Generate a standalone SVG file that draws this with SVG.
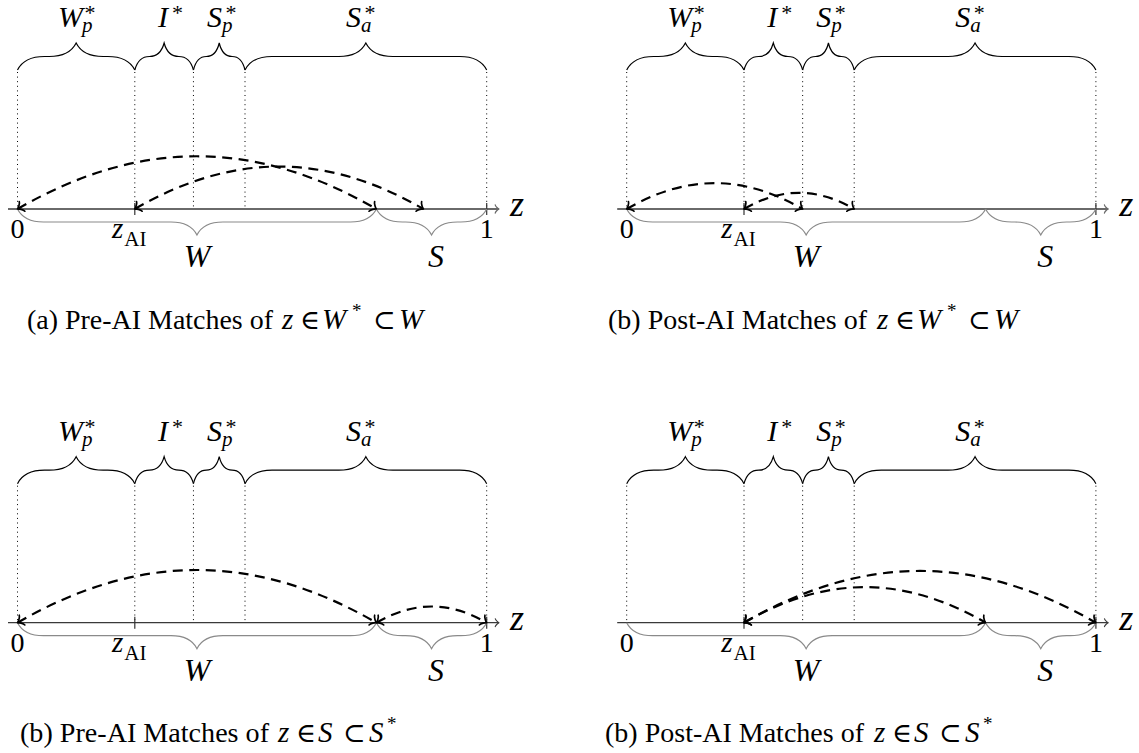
<svg xmlns="http://www.w3.org/2000/svg" width="1139" height="753" viewBox="0 0 1139 753">
<style>
.brace{fill:none;stroke:#000;stroke-width:1.2}
.lbrace{fill:none;stroke:#8a8a8a;stroke-width:1.2}
.dot{stroke:#000;stroke-width:1;stroke-dasharray:1 3.6}
.axis{stroke:#6a6a6a;stroke-width:1.9;marker-end:url(#axhead)}
.axis2{stroke:#3a3a3a;stroke-width:1.3;marker-end:url(#axhead2)}
.tick{stroke:#333;stroke-width:1.2}
.arc{fill:none;stroke:#000;stroke-width:2.2;stroke-dasharray:10 6.5;marker-start:url(#tip);marker-end:url(#tip)}
text{font-family:"Liberation Serif","DejaVu Serif",serif;fill:#000}
.lab{font-size:30px;font-style:italic}
.big{font-size:32px;font-style:italic;text-anchor:middle}
.sub{font-size:21px;font-style:italic}
.star{font-size:22px;font-style:normal}
.num{font-size:28px;text-anchor:middle}
.zi{font-size:29px;font-style:italic}
.ai{font-size:21px;font-style:normal}
.zax{font-size:36px;font-style:italic}
.cap{font-size:27px}
.capi{font-size:29px;font-style:italic}
.caps{font-size:19px}
</style>
<defs>
<marker id="tip" markerUnits="userSpaceOnUse" orient="auto-start-reverse" refX="1.05" refY="0" markerWidth="20" markerHeight="20" overflow="visible">
<path d="M-4.2,5.6 C-3.85,3.5 0,0.35 1.05,0 C0,-0.35 -3.85,-3.5 -4.2,-5.6" fill="none" stroke="#000" stroke-width="1.7" stroke-linecap="round" stroke-linejoin="round"/>
</marker>
<marker id="axhead" markerUnits="userSpaceOnUse" orient="auto" refX="0.75" refY="0" markerWidth="20" markerHeight="20" overflow="visible">
<path d="M-3,4 C-2.75,2.5 0,0.25 0.75,0 C0,-0.25 -2.75,-2.5 -3,-4" fill="none" stroke="#6a6a6a" stroke-width="1.3" stroke-linecap="round" stroke-linejoin="round"/>
</marker>
<marker id="axhead2" markerUnits="userSpaceOnUse" orient="auto" refX="0.75" refY="0" markerWidth="20" markerHeight="20" overflow="visible">
<path d="M-3,4 C-2.75,2.5 0,0.25 0.75,0 C0,-0.25 -2.75,-2.5 -3,-4" fill="none" stroke="#3a3a3a" stroke-width="1.1" stroke-linecap="round" stroke-linejoin="round"/>
</marker>
</defs>
<rect width="1139" height="753" fill="#fff"/>

<g id="panel-a">
<g id="a-top-braces">
<path class="brace" d="M17.5,70 C21.55,61.9 31,56.5 44.5,56.5 L49.15,56.5 C62.65,56.5 72.1,51.1 76.15,43 C80.2,51.1 89.65,56.5 103.15,56.5 L107.8,56.5 C121.3,56.5 130.75,61.9 134.8,70"/>
<path class="brace" d="M134.8,70 C137,61.9 142.13,56.5 149.46,56.5 C156.79,56.5 161.93,51.1 164.13,43 C166.32,51.1 171.46,56.5 178.79,56.5 C186.12,56.5 191.25,61.9 193.45,70"/>
<path class="brace" d="M193.45,70 C195.38,61.9 199.9,56.5 206.34,56.5 C212.79,56.5 217.3,51.1 219.23,43 C221.16,51.1 225.67,56.5 232.12,56.5 C238.56,56.5 243.07,61.9 245,70"/>
<path class="brace" d="M245,70 C249.05,61.9 258.5,56.5 272,56.5 L338.85,56.5 C352.35,56.5 361.8,51.1 365.85,43 C369.9,51.1 379.35,56.5 392.85,56.5 L459.7,56.5 C473.2,56.5 482.65,61.9 486.7,70"/>
</g>
<g id="a-dotted">
<line class="dot" x1="17.5" y1="72" x2="17.5" y2="209"/>
<line class="dot" x1="134.8" y1="72" x2="134.8" y2="209"/>
<line class="dot" x1="193.45" y1="72" x2="193.45" y2="209"/>
<line class="dot" x1="245" y1="72" x2="245" y2="209"/>
<line class="dot" x1="486.7" y1="72" x2="486.7" y2="209"/>
</g>
<g id="a-axis">
<line class="axis" x1="8" y1="209" x2="499" y2="209"/>
<line class="tick" x1="134.8" y1="203" x2="134.8" y2="215"/>
<line class="tick" x1="486.7" y1="203" x2="486.7" y2="215"/>
</g>
<g id="a-bottom-braces">
<path class="lbrace" d="M17.5,209 C21.4,216.8 30.5,222 43.5,222 L170.95,222 C183.95,222 193.05,227.2 196.95,235 C200.85,227.2 209.95,222 222.95,222 L350.4,222 C363.4,222 372.5,216.8 376.4,209"/>
<path class="lbrace" d="M376.4,209 C380.3,216.8 389.4,222 402.4,222 L405.55,222 C418.55,222 427.65,227.2 431.55,235 C435.45,227.2 444.55,222 457.55,222 L460.7,222 C473.7,222 482.8,216.8 486.7,209"/>
</g>
<g id="a-labels">
<text class="lab" x="58" y="27">W<tspan class="sub" dx="-1" dy="5">p</tspan><tspan class="star" dx="-8" dy="-12">*</tspan></text>
<text class="lab" x="158" y="27">I<tspan class="star" dx="4" dy="-7">*</tspan></text>
<text class="lab" x="207" y="27">S<tspan class="sub" dy="5">p</tspan><tspan class="star" dx="-7" dy="-12">*</tspan></text>
<text class="lab" x="346" y="27">S<tspan class="sub" dy="5">a</tspan><tspan class="star" dx="-7" dy="-12">*</tspan></text>
<text class="num" x="17.5" y="238">0</text>
<text class="zi" x="112" y="238">z<tspan class="ai" dx="1" dy="8">AI</tspan></text>
<text class="big" x="197" y="267">W</text>
<text class="big" x="436" y="267">S</text>
<text class="num" x="486.7" y="238">1</text>
<text class="zax" x="510" y="216">z</text>
</g>
</g>

<g id="panel-b" transform="translate(609.2,0)">
<g id="b-top-braces">
<path class="brace" d="M17.5,70 C21.55,61.9 31,56.5 44.5,56.5 L49.15,56.5 C62.65,56.5 72.1,51.1 76.15,43 C80.2,51.1 89.65,56.5 103.15,56.5 L107.8,56.5 C121.3,56.5 130.75,61.9 134.8,70"/>
<path class="brace" d="M134.8,70 C137,61.9 142.13,56.5 149.46,56.5 C156.79,56.5 161.93,51.1 164.13,43 C166.32,51.1 171.46,56.5 178.79,56.5 C186.12,56.5 191.25,61.9 193.45,70"/>
<path class="brace" d="M193.45,70 C195.38,61.9 199.9,56.5 206.34,56.5 C212.79,56.5 217.3,51.1 219.23,43 C221.16,51.1 225.67,56.5 232.12,56.5 C238.56,56.5 243.07,61.9 245,70"/>
<path class="brace" d="M245,70 C249.05,61.9 258.5,56.5 272,56.5 L338.85,56.5 C352.35,56.5 361.8,51.1 365.85,43 C369.9,51.1 379.35,56.5 392.85,56.5 L459.7,56.5 C473.2,56.5 482.65,61.9 486.7,70"/>
</g>
<g id="b-dotted">
<line class="dot" x1="17.5" y1="72" x2="17.5" y2="209"/>
<line class="dot" x1="134.8" y1="72" x2="134.8" y2="209"/>
<line class="dot" x1="193.45" y1="72" x2="193.45" y2="209"/>
<line class="dot" x1="245" y1="72" x2="245" y2="209"/>
<line class="dot" x1="486.7" y1="72" x2="486.7" y2="209"/>
</g>
<g id="b-axis">
<line class="axis" x1="8" y1="209" x2="499" y2="209"/>
<line class="tick" x1="134.8" y1="203" x2="134.8" y2="215"/>
<line class="tick" x1="486.7" y1="203" x2="486.7" y2="215"/>
</g>
<g id="b-bottom-braces">
<path class="lbrace" d="M17.5,209 C21.4,216.8 30.5,222 43.5,222 L170.95,222 C183.95,222 193.05,227.2 196.95,235 C200.85,227.2 209.95,222 222.95,222 L350.4,222 C363.4,222 372.5,216.8 376.4,209"/>
<path class="lbrace" d="M376.4,209 C380.3,216.8 389.4,222 402.4,222 L405.55,222 C418.55,222 427.65,227.2 431.55,235 C435.45,227.2 444.55,222 457.55,222 L460.7,222 C473.7,222 482.8,216.8 486.7,209"/>
</g>
<g id="b-labels">
<text class="lab" x="58" y="27">W<tspan class="sub" dx="-1" dy="5">p</tspan><tspan class="star" dx="-8" dy="-12">*</tspan></text>
<text class="lab" x="158" y="27">I<tspan class="star" dx="4" dy="-7">*</tspan></text>
<text class="lab" x="207" y="27">S<tspan class="sub" dy="5">p</tspan><tspan class="star" dx="-7" dy="-12">*</tspan></text>
<text class="lab" x="346" y="27">S<tspan class="sub" dy="5">a</tspan><tspan class="star" dx="-7" dy="-12">*</tspan></text>
<text class="num" x="17.5" y="238">0</text>
<text class="zi" x="112" y="238">z<tspan class="ai" dx="1" dy="8">AI</tspan></text>
<text class="big" x="197" y="267">W</text>
<text class="big" x="436" y="267">S</text>
<text class="num" x="486.7" y="238">1</text>
<text class="zax" x="510" y="216">z</text>
</g>
</g>

<g id="panel-c" transform="translate(0,413.7)">
<g id="c-top-braces">
<path class="brace" d="M17.5,70 C21.55,61.9 31,56.5 44.5,56.5 L49.15,56.5 C62.65,56.5 72.1,51.1 76.15,43 C80.2,51.1 89.65,56.5 103.15,56.5 L107.8,56.5 C121.3,56.5 130.75,61.9 134.8,70"/>
<path class="brace" d="M134.8,70 C137,61.9 142.13,56.5 149.46,56.5 C156.79,56.5 161.93,51.1 164.13,43 C166.32,51.1 171.46,56.5 178.79,56.5 C186.12,56.5 191.25,61.9 193.45,70"/>
<path class="brace" d="M193.45,70 C195.38,61.9 199.9,56.5 206.34,56.5 C212.79,56.5 217.3,51.1 219.23,43 C221.16,51.1 225.67,56.5 232.12,56.5 C238.56,56.5 243.07,61.9 245,70"/>
<path class="brace" d="M245,70 C249.05,61.9 258.5,56.5 272,56.5 L338.85,56.5 C352.35,56.5 361.8,51.1 365.85,43 C369.9,51.1 379.35,56.5 392.85,56.5 L459.7,56.5 C473.2,56.5 482.65,61.9 486.7,70"/>
</g>
<g id="c-dotted">
<line class="dot" x1="17.5" y1="72" x2="17.5" y2="209"/>
<line class="dot" x1="134.8" y1="72" x2="134.8" y2="209"/>
<line class="dot" x1="193.45" y1="72" x2="193.45" y2="209"/>
<line class="dot" x1="245" y1="72" x2="245" y2="209"/>
<line class="dot" x1="486.7" y1="72" x2="486.7" y2="209"/>
</g>
<g id="c-axis">
<line class="axis2" x1="8" y1="209" x2="499" y2="209"/>
<line class="tick" x1="134.8" y1="203" x2="134.8" y2="215"/>
<line class="tick" x1="486.7" y1="203" x2="486.7" y2="215"/>
</g>
<g id="c-bottom-braces">
<path class="lbrace" d="M17.5,209 C21.4,216.8 30.5,222 43.5,222 L170.95,222 C183.95,222 193.05,227.2 196.95,235 C200.85,227.2 209.95,222 222.95,222 L350.4,222 C363.4,222 372.5,216.8 376.4,209"/>
<path class="lbrace" d="M376.4,209 C380.3,216.8 389.4,222 402.4,222 L405.55,222 C418.55,222 427.65,227.2 431.55,235 C435.45,227.2 444.55,222 457.55,222 L460.7,222 C473.7,222 482.8,216.8 486.7,209"/>
</g>
<g id="c-labels">
<text class="lab" x="58" y="27">W<tspan class="sub" dx="-1" dy="5">p</tspan><tspan class="star" dx="-8" dy="-12">*</tspan></text>
<text class="lab" x="158" y="27">I<tspan class="star" dx="4" dy="-7">*</tspan></text>
<text class="lab" x="207" y="27">S<tspan class="sub" dy="5">p</tspan><tspan class="star" dx="-7" dy="-12">*</tspan></text>
<text class="lab" x="346" y="27">S<tspan class="sub" dy="5">a</tspan><tspan class="star" dx="-7" dy="-12">*</tspan></text>
<text class="num" x="17.5" y="238">0</text>
<text class="zi" x="112" y="238">z<tspan class="ai" dx="1" dy="8">AI</tspan></text>
<text class="big" x="197" y="267">W</text>
<text class="big" x="436" y="267">S</text>
<text class="num" x="486.7" y="238">1</text>
<text class="zax" x="510" y="216">z</text>
</g>
</g>

<g id="panel-d" transform="translate(609.2,413.7)">
<g id="d-top-braces">
<path class="brace" d="M17.5,70 C21.55,61.9 31,56.5 44.5,56.5 L49.15,56.5 C62.65,56.5 72.1,51.1 76.15,43 C80.2,51.1 89.65,56.5 103.15,56.5 L107.8,56.5 C121.3,56.5 130.75,61.9 134.8,70"/>
<path class="brace" d="M134.8,70 C137,61.9 142.13,56.5 149.46,56.5 C156.79,56.5 161.93,51.1 164.13,43 C166.32,51.1 171.46,56.5 178.79,56.5 C186.12,56.5 191.25,61.9 193.45,70"/>
<path class="brace" d="M193.45,70 C195.38,61.9 199.9,56.5 206.34,56.5 C212.79,56.5 217.3,51.1 219.23,43 C221.16,51.1 225.67,56.5 232.12,56.5 C238.56,56.5 243.07,61.9 245,70"/>
<path class="brace" d="M245,70 C249.05,61.9 258.5,56.5 272,56.5 L338.85,56.5 C352.35,56.5 361.8,51.1 365.85,43 C369.9,51.1 379.35,56.5 392.85,56.5 L459.7,56.5 C473.2,56.5 482.65,61.9 486.7,70"/>
</g>
<g id="d-dotted">
<line class="dot" x1="17.5" y1="72" x2="17.5" y2="209"/>
<line class="dot" x1="134.8" y1="72" x2="134.8" y2="209"/>
<line class="dot" x1="193.45" y1="72" x2="193.45" y2="209"/>
<line class="dot" x1="245" y1="72" x2="245" y2="209"/>
<line class="dot" x1="486.7" y1="72" x2="486.7" y2="209"/>
</g>
<g id="d-axis">
<line class="axis2" x1="8" y1="209" x2="499" y2="209"/>
<line class="tick" x1="134.8" y1="203" x2="134.8" y2="215"/>
<line class="tick" x1="486.7" y1="203" x2="486.7" y2="215"/>
</g>
<g id="d-bottom-braces">
<path class="lbrace" d="M17.5,209 C21.4,216.8 30.5,222 43.5,222 L170.95,222 C183.95,222 193.05,227.2 196.95,235 C200.85,227.2 209.95,222 222.95,222 L350.4,222 C363.4,222 372.5,216.8 376.4,209"/>
<path class="lbrace" d="M376.4,209 C380.3,216.8 389.4,222 402.4,222 L405.55,222 C418.55,222 427.65,227.2 431.55,235 C435.45,227.2 444.55,222 457.55,222 L460.7,222 C473.7,222 482.8,216.8 486.7,209"/>
</g>
<g id="d-labels">
<text class="lab" x="58" y="27">W<tspan class="sub" dx="-1" dy="5">p</tspan><tspan class="star" dx="-8" dy="-12">*</tspan></text>
<text class="lab" x="158" y="27">I<tspan class="star" dx="4" dy="-7">*</tspan></text>
<text class="lab" x="207" y="27">S<tspan class="sub" dy="5">p</tspan><tspan class="star" dx="-7" dy="-12">*</tspan></text>
<text class="lab" x="346" y="27">S<tspan class="sub" dy="5">a</tspan><tspan class="star" dx="-7" dy="-12">*</tspan></text>
<text class="num" x="17.5" y="238">0</text>
<text class="zi" x="112" y="238">z<tspan class="ai" dx="1" dy="8">AI</tspan></text>
<text class="big" x="197" y="267">W</text>
<text class="big" x="436" y="267">S</text>
<text class="num" x="486.7" y="238">1</text>
<text class="zax" x="510" y="216">z</text>
</g>
</g>

<g id="connectors">
<path class="arc" d="M17.5,209 C139.2,138.7 254.7,138.7 376.4,209"/>
<path class="arc" d="M134.8,209 C232.6,152.4 325.6,152.4 423.4,209"/>
<path class="arc" d="M626.7,209 C686.3,174.5 743,174.5 802.65,209"/>
<path class="arc" d="M744,209 C781.4,187.4 816.8,187.4 854.2,209"/>
<path class="arc" d="M17.5,622.7 C139.2,552.4 254.7,552.4 376.4,622.7"/>
<path class="arc" d="M376.4,622.7 C413.8,601.1 449.3,601.1 486.7,622.7"/>
<path class="arc" d="M744,622.7 C863.3,553.7 976.6,553.7 1095.9,622.7"/>
<path class="arc" d="M744,622.7 C825.9,575.3 903.7,575.3 985.6,622.7"/>
</g>

<g id="captions">
<text class="cap" x="27" y="329" textLength="246" lengthAdjust="spacingAndGlyphs">(a) Pre-AI Matches of</text>
<text class="capi" x="282" y="329">z</text><text class="cap" x="300" y="329">∈</text><text class="capi" x="322" y="329">W</text><text class="caps" x="352" y="317">*</text><text class="cap" x="373" y="329">⊂</text><text class="capi" x="399" y="329">W</text>
<text class="cap" x="608" y="329" textLength="259" lengthAdjust="spacingAndGlyphs">(b) Post-AI Matches of</text>
<text class="capi" x="877" y="329">z</text><text class="cap" x="895" y="329">∈</text><text class="capi" x="917" y="329">W</text><text class="caps" x="947" y="317">*</text><text class="cap" x="968" y="329">⊂</text><text class="capi" x="994" y="329">W</text>
<text class="cap" x="20" y="742" textLength="249" lengthAdjust="spacingAndGlyphs">(b) Pre-AI Matches of</text>
<text class="capi" x="278" y="742">z</text><text class="cap" x="296" y="742">∈</text><text class="capi" x="318" y="742">S</text><text class="cap" x="343" y="742">⊂</text><text class="capi" x="369" y="742">S</text><text class="caps" x="387" y="730">*</text>
<text class="cap" x="605" y="742" textLength="259" lengthAdjust="spacingAndGlyphs">(b) Post-AI Matches of</text>
<text class="capi" x="874" y="742">z</text><text class="cap" x="892" y="742">∈</text><text class="capi" x="914" y="742">S</text><text class="cap" x="939" y="742">⊂</text><text class="capi" x="965" y="742">S</text><text class="caps" x="983" y="730">*</text>
</g>
</svg>
